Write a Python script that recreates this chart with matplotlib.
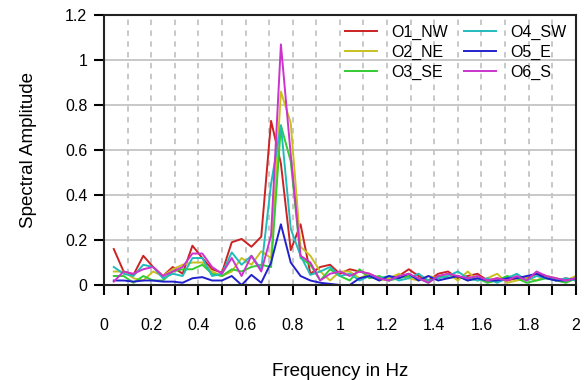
import numpy as np
import matplotlib
matplotlib.use('Agg')
import matplotlib.pyplot as plt

plt.rcParams['font.family'] = ['Liberation Sans', 'DejaVu Sans']

# frequency grid, 1/24 Hz steps
freq = np.arange(1, 49) / 24.0

o1_nw = [0.16, 0.06, 0.045, 0.13, 0.08, 0.04, 0.08, 0.05, 0.175, 0.12, 0.07, 0.055,
         0.19, 0.205, 0.17, 0.215, 0.73, 0.54, 0.155, 0.27, 0.05, 0.08, 0.09, 0.05,
         0.07, 0.06, 0.05, 0.03, 0.02, 0.04, 0.07, 0.04, 0.02, 0.05, 0.06, 0.03,
         0.04, 0.05, 0.02, 0.03, 0.02, 0.03, 0.03, 0.05, 0.04, 0.02, 0.03, 0.02]
o2_ne = [0.06, 0.06, 0.03, 0.02, 0.06, 0.04, 0.07, 0.09, 0.10, 0.10, 0.06, 0.04,
         0.06, 0.12, 0.09, 0.15, 0.12, 0.86, 0.72, 0.17, 0.13, 0.06, 0.02, 0.06,
         0.06, 0.03, 0.05, 0.02, 0.03, 0.05, 0.03, 0.02, 0.04, 0.03, 0.05, 0.02,
         0.06, 0.02, 0.03, 0.05, 0.01, 0.02, 0.03, 0.02, 0.04, 0.03, 0.02, 0.04]
o3_se = [0.04, 0.04, 0.01, 0.04, 0.02, 0.02, 0.06, 0.07, 0.07, 0.09, 0.05, 0.04,
         0.07, 0.06, 0.08, 0.09, 0.08, 0.71, 0.55, 0.12, 0.09, 0.02, 0.07, 0.04,
         0.02, 0.07, 0.03, 0.04, 0.02, 0.03, 0.04, 0.03, 0.01, 0.04, 0.03, 0.04,
         0.02, 0.03, 0.01, 0.02, 0.04, 0.03, 0.01, 0.02, 0.03, 0.02, 0.01, 0.03]
o4_sw = [0.08, 0.05, 0.04, 0.09, 0.08, 0.03, 0.05, 0.04, 0.12, 0.12, 0.04, 0.05,
         0.145, 0.09, 0.13, 0.07, 0.45, 0.71, 0.25, 0.13, 0.045, 0.06, 0.08, 0.04,
         0.05, 0.02, 0.04, 0.03, 0.04, 0.02, 0.03, 0.05, 0.02, 0.03, 0.04, 0.06,
         0.03, 0.02, 0.03, 0.01, 0.03, 0.05, 0.02, 0.04, 0.03, 0.02, 0.03, 0.02]
o5_e = [0.02, 0.02, 0.015, 0.02, 0.02, 0.015, 0.015, 0.01, 0.03, 0.035, 0.02, 0.02,
        0.04, 0.0, 0.045, 0.01, 0.10, 0.27, 0.10, 0.04, 0.02, 0.01, 0.005, 0.0,
        0.0, 0.03, 0.04, 0.02, 0.04, 0.03, 0.05, 0.02, 0.04, 0.02, 0.03, 0.04,
        0.02, 0.03, 0.02, 0.02, 0.03, 0.03, 0.04, 0.05, 0.03, 0.02, 0.02, 0.03]
o6_s = [0.015, 0.06, 0.05, 0.07, 0.08, 0.04, 0.06, 0.08, 0.14, 0.14, 0.08, 0.05,
        0.12, 0.04, 0.13, 0.06, 0.22, 1.07, 0.58, 0.13, 0.10, 0.02, 0.05, 0.06,
        0.04, 0.06, 0.05, 0.03, 0.02, 0.04, 0.05, 0.03, 0.01, 0.04, 0.05, 0.04,
        0.03, 0.04, 0.02, 0.03, 0.02, 0.04, 0.02, 0.06, 0.04, 0.03, 0.02, 0.03]

series = [o1_nw, o2_ne, o3_se, o4_sw, o5_e, o6_s]
names = ['O1_NW', 'O2_NE', 'O3_SE', 'O4_SW', 'O5_E', 'O6_S']
colors = ['#cc2222', '#c8c020', '#33cc33', '#22bbbb', '#2222cc', '#cc33cc']

x_ticks = np.arange(0, 2.01, 0.1)
x_labels = ['0', '', '0.2', '', '0.4', '', '0.6', '', '0.8', '', '1', '',
            '1.2', '', '1.4', '', '1.6', '', '1.8', '', '2']
y_ticks = [0, 0.2, 0.4, 0.6, 0.8, 1.0, 1.2]
y_labels = ['0', '0.2', '0.4', '0.6', '0.8', '1', '1.2']

fig = plt.figure(figsize=(5.84, 3.80), dpi=100)
ax = fig.add_axes([0.178, 0.25, 0.808, 0.71])

# grid: solid horizontal, dashed vertical
for yv in y_ticks[1:]:
    ax.axhline(yv, color='#c4c4c4', lw=1.3, zorder=0)
for xv in x_ticks[1:-1]:
    ax.axvline(xv, color='#c4c4c4', lw=1.3, ls=(0, (3, 3)), zorder=0)

for vals, name, c in zip(series, names, colors):
    ax.plot(freq, vals, color=c, lw=1.4, label=name)

ax.set_xlim(0, 2)
ax.set_ylim(0, 1.2)
ax.set_xticks(x_ticks)
ax.set_xticklabels(x_labels)
ax.set_yticks(y_ticks)
ax.set_yticklabels(y_labels)
ax.tick_params(axis='x', direction='out', length=7, width=1.5, pad=17, labelsize=11.5)
ax.tick_params(axis='y', direction='out', length=7, width=1.5, pad=5, labelsize=11.5)
for sp in ax.spines.values():
    sp.set_linewidth(1.5)
    sp.set_color('#222222')

ax.set_xlabel('Frequency in Hz', fontsize=13.5, labelpad=21)
ax.set_ylabel('Spectral Amplitude', fontsize=13.5, labelpad=20)

ax.legend(ncol=2, loc='upper right', frameon=False, fontsize=11.5,
          handlelength=2.0, labelspacing=0.3, columnspacing=1.0,
          borderaxespad=0.2, handletextpad=0.9)

fig.savefig('out.png', dpi=100)
